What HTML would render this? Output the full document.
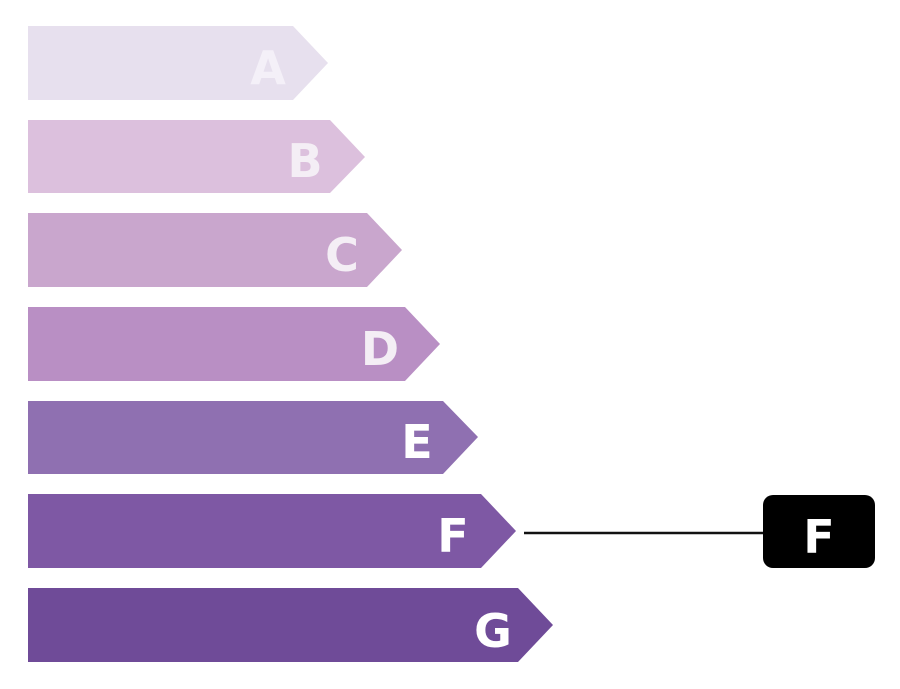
<!DOCTYPE html>
<html><head><style>body{margin:0;background:#fff}</style></head><body>
<svg width="900" height="684" xmlns="http://www.w3.org/2000/svg" font-family="DejaVu Sans, sans-serif" font-weight="bold" font-size="46">
<g fill="#fff">
<polygon points="28,26 293,26 328,63 293,100 28,100" fill="#e7e0ee"/>
<text x="268" y="84" text-anchor="middle" fill="#f4f0f8">A</text>
<polygon points="28,120 330,120 365,157 330,193 28,193" fill="#dcc0dd"/>
<text x="305" y="177" text-anchor="middle" fill="#f4eef5">B</text>
<polygon points="28,213 367,213 402,250 367,287 28,287" fill="#c9a6cd"/>
<text x="342" y="271" text-anchor="middle" fill="#f4eef5">C</text>
<polygon points="28,307 405,307 440,344 405,381 28,381" fill="#b98fc4"/>
<text x="380" y="365" text-anchor="middle" fill="#f4eef5">D</text>
<polygon points="28,401 443,401 478,437 443,474 28,474" fill="#8f70b1"/>
<text x="417" y="458" text-anchor="middle">E</text>
<polygon points="28,494 481,494 516,531 481,568 28,568" fill="#7e58a4"/>
<text x="453" y="552" text-anchor="middle">F</text>
<polygon points="28,588 518,588 553,625 518,662 28,662" fill="#6f4b98"/>
<text x="493" y="647" text-anchor="middle">G</text>
</g>
<line x1="524" y1="533" x2="765" y2="533" stroke="#111" stroke-width="2.5"/>
<rect x="763" y="495" width="112" height="73" rx="10" fill="#000"/>
<text x="819" y="553" text-anchor="middle" fill="#fff">F</text>
</svg>
</body></html>
